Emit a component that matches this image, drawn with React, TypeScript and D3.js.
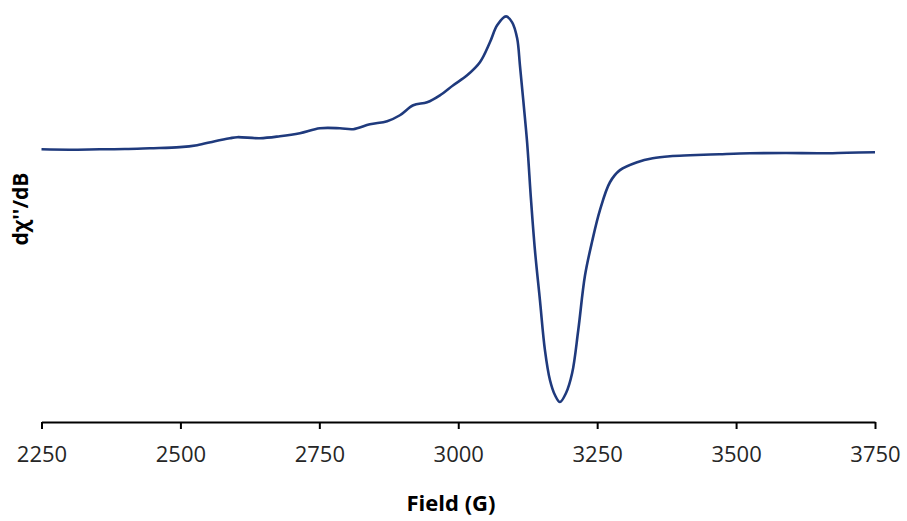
import React, { useEffect, useRef } from 'react';
import * as d3 from 'd3';

// EPR derivative spectrum (field in G, intensity normalised to the positive peak)
const fieldValues = [
  2250, 2300, 2355, 2400, 2445, 2499, 2530, 2562, 2589, 2602, 2643, 2679, 2715, 2751, 2787, 2811, 2841,
  2872, 2895, 2919, 2944, 2967, 2991, 3016, 3039, 3057, 3070, 3086, 3097, 3106, 3111, 3117, 3124, 3131,
  3138, 3147, 3156, 3165, 3174, 3183, 3194, 3205, 3216, 3228, 3241, 3255, 3273, 3291, 3322, 3350, 3381,
  3417, 3470, 3525, 3590, 3651, 3700, 3750,
];
const signalValues = [
  -0.008, -0.011, -0.008, -0.006, 0.0, 0.008, 0.023, 0.053, 0.075, 0.083, 0.075, 0.09, 0.113, 0.15, 0.15,
  0.143, 0.18, 0.203, 0.248, 0.323, 0.346, 0.398, 0.474, 0.549, 0.647, 0.797, 0.925, 0.992, 0.947, 0.827,
  0.624, 0.361, 0.04, -0.391, -0.767, -1.143, -1.519, -1.744, -1.857, -1.91, -1.842, -1.692, -1.368,
  -0.96, -0.7, -0.466, -0.256, -0.165, -0.105, -0.075, -0.06, -0.053, -0.045, -0.038, -0.036, -0.038,
  -0.034, -0.03,
];
const xTicks = [2250, 2500, 2750, 3000, 3250, 3500, 3750];

const xLabel = 'Field (G)';
const yLabel = 'dχ\'\'/dB';

export default function App() {
  const axisRef = useRef(null);

  // dimensions of the svg and the plot area
  const width = 907,
    height = 521;
  const margin = { top: 10, left: 41.5, right: 32, bottom: 99 };

  const data = fieldValues.map((f, i) => ({ field: f, value: signalValues[i] }));

  const xScale = d3
    .scaleLinear()
    .domain([2250, 3750])
    .range([margin.left, width - margin.right]);
  const yScale = d3
    .scaleLinear()
    .domain([-2.06, 1.04])
    .range([height - margin.bottom, margin.top]);

  const valueline = d3
    .line()
    .curve(d3.curveCatmullRom.alpha(0.5))
    .x((d) => xScale(d.field))
    .y((d) => yScale(d.value));

  useEffect(() => {
    const g = d3.select(axisRef.current);
    g.selectAll('*').remove();
    g.call(
      d3
        .axisBottom(xScale)
        .tickValues(xTicks)
        .tickFormat(d3.format('d'))
        .tickSize(7)
        .tickSizeOuter(0)
        .tickPadding(17),
    );
    g.select('.domain').attr('stroke', '#000').attr('stroke-width', 2);
    g.selectAll('.tick line').attr('stroke', '#000').attr('stroke-width', 2);
    g.selectAll('.tick text')
      .attr('font-family', '"Open Sans", sans-serif')
      .attr('font-size', 22)
      .attr('fill', '#262626');
  }, []);

  return (
    <div style={{ position: 'absolute', left: 0, top: 0 }}>
      <svg width={width} height={height} style={{ display: 'block', background: '#fff' }}>
        <path d={valueline(data)} fill="none" stroke="#1f3a7d" strokeWidth={2.6} strokeLinejoin="round" />
        <g ref={axisRef} transform={'translate(0,' + (height - margin.bottom) + ')'} />
        <text
          x={451}
          y={505}
          textAnchor="middle"
          dominantBaseline="middle"
          fontFamily='"Open Sans", sans-serif'
          fontWeight="bold"
          fontSize={22}
          fill="#000"
        >
          {xLabel}
        </text>
        <text
          transform="translate(22,209) rotate(-90)"
          textAnchor="middle"
          dominantBaseline="middle"
          fontFamily='"Open Sans", sans-serif'
          fontWeight="bold"
          fontSize={21}
          fill="#000"
        >
          {yLabel}
        </text>
      </svg>
    </div>
  );
}
